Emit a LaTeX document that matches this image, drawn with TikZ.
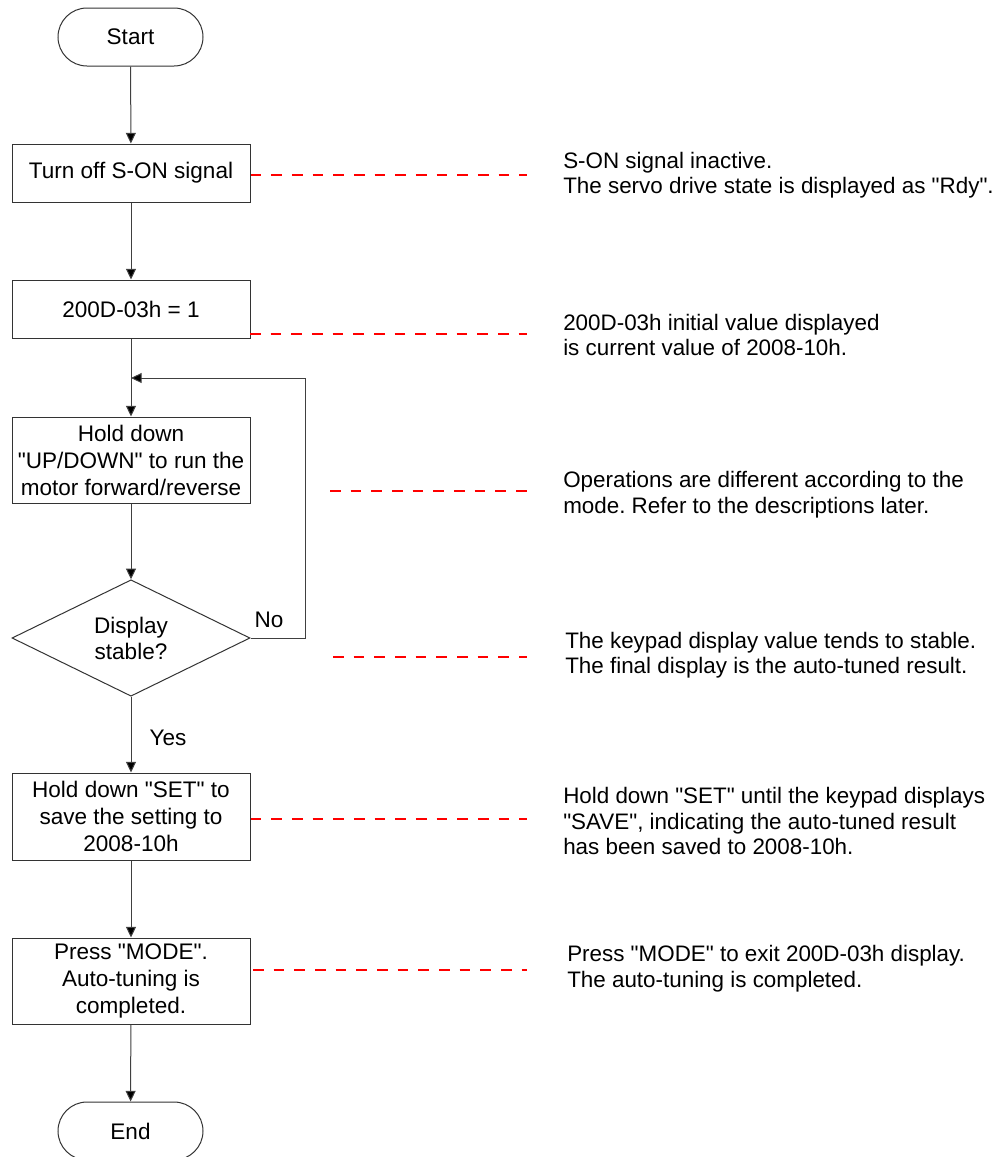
\documentclass[tikz,border=0pt]{standalone}
\usepackage{fontspec}
\setmainfont{Liberation Sans}
\usetikzlibrary{shapes.geometric,arrows.meta}
\newcommand{\dq}{\textquotedbl}
\frenchspacing
\tikzset{
  flowbox/.style={draw=black!80, line width=0.75pt, rectangle, minimum width=178.5pt,
    minimum height=43.5pt, inner sep=0pt, align=center,
    font=\fontsize{16.9pt}{20.25pt}\selectfont},
  term/.style={draw=black!80, line width=0.75pt, rectangle, rounded corners=21.75pt,
    minimum width=108.75pt, minimum height=43.5pt, inner sep=0pt,
    font=\fontsize{16.9pt}{20.25pt}\selectfont},
  decision/.style={draw=black!80, line width=0.75pt, diamond, minimum width=178.5pt,
    minimum height=83.25pt, inner sep=0pt, align=center,
    font=\fontsize{16.9pt}{19.5pt}\selectfont},
  flow/.style={draw=black!75, line width=0.75pt, -{Triangle[length=8pt,width=7.5pt,fill=black]}},
  note/.style={anchor=west, align=left, inner sep=0pt,
    font=\fontsize{16.8pt}{19.1pt}\selectfont},
  lbl/.style={inner sep=0pt, font=\fontsize{16.9pt}{19.5pt}\selectfont},
  guide/.style={draw=red, line width=1pt, dash pattern=on 8pt off 7.5pt}
}
\begin{document}
\begin{tikzpicture}[x=0.75pt,y=-0.75pt]
\useasboundingbox (0,0) rectangle (998,1157);
\fill[white] (0,0) rectangle (998,1157);

% flowchart nodes
\node[term] (start) at (130.5,37) {Start};
\node[flowbox] (b1) at (131,173) {Turn off S-ON signal};
\node[flowbox] (b2) at (131,309) {200D-03h = 1};
\node[flowbox, minimum height=64.5pt] (b3) at (131,460) {Hold down\\\dq UP/DOWN\dq{} to run the\\motor forward/reverse};
\node[decision] (d) at (131,638) {Display\\stable?};
\node[flowbox, minimum height=65.25pt] (b4) at (131,816.5) {Hold down \dq SET\dq{} to\\save the setting to\\2008-10h};
\node[flowbox, minimum height=64.5pt] (b5) at (131,981) {Press \dq MODE\dq.\\Auto-tuning is\\completed.};
\node[term] (end) at (130.5,1131) {End};

% connectors
\coordinate (j) at (131,378);
\draw[flow] (start) -- (b1);
\draw[flow] (b1) -- (b2);
\draw[flow] (b2) -- (b3);
\draw[flow] (b3) -- (d);
\draw[flow] (d) -- (b4);
\draw[flow] (b4) -- (b5);
\draw[flow] (b5) -- (end);
\draw[flow] (d.east) -- (305,638) |- (j);

\node[lbl] (no) at (269,620) {No};
\node[lbl] (yes) at (168,738) {Yes};

% notes
\node[note] (n1) at (563,175) {S-ON signal inactive.\\The servo drive state is displayed as \dq Rdy\dq.};
\node[note] (n2) at (563,335) {200D-03h initial value displayed\\is current value of 2008-10h.};
\node[note] (n3) at (563,494.5) {Operations are different according to the\\mode. Refer to the descriptions later.};
\node[note] (n4) at (565,655) {The keypad display value tends to stable.\\The final display is the auto-tuned result.};
\node[note] (n5) at (563,821) {Hold down \dq SET\dq{} until the keypad displays\\\dq SAVE\dq, indicating the auto-tuned result\\has been saved to 2008-10h.};
\node[note] (n6) at (567,968.5) {Press \dq MODE\dq{} to exit 200D-03h display.\\The auto-tuning is completed.};

% guide lines
\coordinate (g1) at (527,175);
\coordinate (g2s) at (250,334);
\coordinate (g2) at (527,334);
\coordinate (g3s) at (330,491);
\coordinate (g3) at (527,491);
\coordinate (g4s) at (333,657);
\coordinate (g4) at (527,657);
\coordinate (g5) at (527,819);
\coordinate (g6s) at (253,970);
\coordinate (g6) at (527,970);
\draw[guide] (b1.east |- g1) -- (g1);
\draw[guide] (g2s) -- (g2);
\draw[guide] (g3s) -- (g3);
\draw[guide] (g4s) -- (g4);
\draw[guide] (b4.east |- g5) -- (g5);
\draw[guide] (g6s) -- (g6);
\end{tikzpicture}
\end{document}
